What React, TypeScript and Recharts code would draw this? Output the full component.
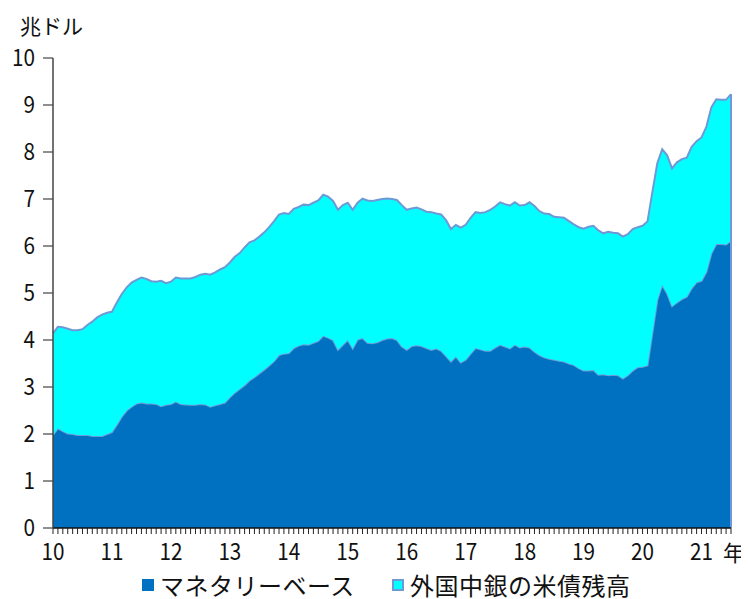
import React from "react";
import {
  AreaChart,
  Area,
  XAxis,
  YAxis,
  ReferenceLine,
  Label,
} from "recharts";

// Monthly values, Jan 2010 – Jul 2021, in trillions of US dollars
const monetaryBase: number[] = [
  1.98, 2.12, 2.06, 2.01, 2.0, 1.98, 1.98, 1.98, 1.96, 1.96, 1.96, 2.0,
  2.04, 2.2, 2.37, 2.5, 2.58, 2.65, 2.67, 2.65, 2.65, 2.64, 2.59, 2.62,
  2.64, 2.69, 2.64, 2.63, 2.62, 2.62, 2.64, 2.63, 2.58, 2.61, 2.64, 2.67,
  2.78, 2.88, 2.96, 3.04, 3.14, 3.21, 3.29, 3.37, 3.46, 3.55, 3.68, 3.71,
  3.72, 3.83, 3.88, 3.91, 3.9, 3.94, 3.98, 4.09, 4.05, 4.0, 3.79, 3.9,
  4.0, 3.82, 4.01, 4.04, 3.94, 3.93, 3.95, 4.0, 4.03, 4.04, 4.0, 3.86,
  3.79, 3.87, 3.89, 3.87, 3.83, 3.79, 3.82, 3.77, 3.66, 3.54, 3.65, 3.52,
  3.58, 3.71, 3.83, 3.8, 3.77, 3.77, 3.84, 3.9, 3.86, 3.82, 3.9, 3.84,
  3.86, 3.84, 3.75, 3.68, 3.63, 3.6, 3.58, 3.56, 3.54, 3.5, 3.47, 3.4,
  3.35, 3.35, 3.36, 3.26, 3.27, 3.25, 3.26, 3.25, 3.18, 3.25, 3.35, 3.42,
  3.43, 3.46, 4.15, 4.85, 5.17, 4.99, 4.72, 4.8, 4.87, 4.92, 5.1, 5.23,
  5.26, 5.45, 5.84, 6.04, 6.04, 6.03, 6.11,
];

const foreignTreasuries: number[] = [
  2.16, 2.16, 2.21, 2.23, 2.21, 2.23, 2.25, 2.34, 2.43, 2.52, 2.58, 2.58,
  2.56, 2.6, 2.61, 2.62, 2.64, 2.63, 2.66, 2.65, 2.6, 2.6, 2.67, 2.59,
  2.6, 2.64, 2.67, 2.68, 2.69, 2.72, 2.75, 2.78, 2.81, 2.83, 2.86, 2.88,
  2.87, 2.89, 2.89, 2.93, 2.94, 2.91, 2.91, 2.92, 2.94, 2.98, 2.99, 2.99,
  2.96, 2.96, 2.95, 2.97, 2.97, 2.98, 2.99, 3.0, 3.0, 2.96, 2.98, 2.97,
  2.92, 2.95, 2.91, 2.97, 3.03, 3.03, 3.03, 3.0, 2.98, 2.96, 2.98, 3.01,
  2.98, 2.93, 2.93, 2.91, 2.9, 2.93, 2.87, 2.9, 2.89, 2.82, 2.8, 2.87,
  2.87, 2.89, 2.89, 2.9, 2.95, 3.0, 3.0, 3.03, 3.03, 3.04, 3.03, 3.02,
  3.01, 3.09, 3.1, 3.06, 3.06, 3.08, 3.04, 3.05, 3.06, 3.03, 2.99, 3.0,
  3.02, 3.06, 3.07, 3.07, 3.0, 3.05, 3.02, 3.02, 3.02, 3.0, 3.01, 2.98,
  3.0, 3.06, 3.0, 2.91, 2.89, 2.94, 2.93, 2.98, 2.98, 2.96, 3.01, 3.0,
  3.05, 3.09, 3.11, 3.08, 3.07, 3.08, 3.12,
];

const yearLabels: string[] = ["10", "11", "12", "13", "14", "15", "16", "17", "18", "19", "20", "21"];
const yTicks: number[] = [0, 1, 2, 3, 4, 5, 6, 7, 8, 9, 10];

const SERIES_BASE = "マネタリーベース";
const SERIES_FOREIGN = "外国中銀の米債残高";

const COLOR_BASE = "#0070c0";
const COLOR_FOREIGN = "#00ffff";
const COLOR_EDGE = "#6d9ad6";
const FONT = "'Noto Sans CJK JP', 'Noto Sans', sans-serif";

const data = monetaryBase.map((b, i) => ({
  i,
  base: b,
  foreign: foreignTreasuries[i],
}));

const lastIndex = data.length - 1;
const lastTotal = monetaryBase[lastIndex] + foreignTreasuries[lastIndex];
const monthTicks = data.map((d) => d.i);

// Narrow digits: squeeze tick numerals horizontally
const Numeral = ({ x, y, anchor, children }: any) => (
  <text
    transform={`translate(${x},${y}) scale(0.9,1)`}
    textAnchor={anchor}
    fontSize={23}
    fontFamily={FONT}
    fill="#111"
  >
    {children}
  </text>
);

const XTick = (props: any) => {
  const { x, y, payload } = props;
  const idx = payload.value as number;
  if (idx % 12 !== 0) return null;
  const label = yearLabels[idx / 12];
  if (!label) return null;
  return (
    <Numeral x={x} y={y + 24} anchor="middle">
      {label}
    </Numeral>
  );
};

const YTick = (props: any) => {
  const { x, y, payload } = props;
  return (
    <Numeral x={x} y={y + 8} anchor="end">
      {payload.value}
    </Numeral>
  );
};

const LegendItem = ({
  color,
  border,
  label,
  left,
  spacing,
}: {
  color: string;
  border: string;
  label: string;
  left: number;
  spacing: number;
}) => (
  <div
    style={{
      position: "absolute",
      left,
      top: 564,
      height: 26,
      lineHeight: "26px",
      display: "flex",
      alignItems: "center",
      fontFamily: FONT,
      fontSize: 24,
      color: "#111",
      whiteSpace: "nowrap",
    }}
  >
    <span
      style={{
        display: "inline-block",
        width: 12,
        height: 12,
        boxSizing: "border-box",
        background: color,
        border: `2px solid ${border}`,
        marginRight: 6,
      }}
    />
    <span style={{ letterSpacing: spacing }}>{label}</span>
  </div>
);

export default function App() {
  return (
    <div style={{ position: "relative", width: 741, height: 591 }}>
      <AreaChart
        width={741}
        height={583}
        data={data}
        margin={{ top: 50, right: 18, left: 0, bottom: 23 }}
      >
        <XAxis
          dataKey="i"
          type="number"
          domain={[0, lastIndex]}
          ticks={monthTicks}
          interval={0}
          tick={<XTick />}
          tickSize={6}
          tickLine={{ stroke: "#222", strokeWidth: 1 }}
          axisLine={{ stroke: "#111", strokeWidth: 1.5 }}
          height={40}
        >
          <Label
            content={(p: any) => {
              const vb = p.viewBox || {};
              return (
                <text
                  x={vb.x + vb.width - 8}
                  y={vb.y + 33}
                  fontSize={22}
                  fontFamily={FONT}
                  fill="#111"
                >
                  年
                </text>
              );
            }}
          />
        </XAxis>
        <YAxis
          type="number"
          domain={[0, 10]}
          ticks={yTicks}
          interval={0}
          width={45}
          tick={<YTick />}
          tickSize={10}
          tickMargin={8}
          tickLine={{ stroke: "#444", strokeWidth: 1.2 }}
          axisLine={{ stroke: "#444", strokeWidth: 1.5 }}
        >
          <Label
            content={(p: any) => {
              const vb = p.viewBox || {};
              return (
                <text
                  x={vb.x + 12}
                  y={vb.y - 24}
                  fontSize={21}
                  fontFamily={FONT}
                  fill="#111"
                >
                  兆ドル
                </text>
              );
            }}
          />
        </YAxis>
        <Area
          type="linear"
          dataKey="base"
          name={SERIES_BASE}
          stackId="s"
          fill={COLOR_BASE}
          fillOpacity={1}
          stroke={COLOR_EDGE}
          strokeWidth={2}
          isAnimationActive={false}
          dot={false}
          activeDot={false}
        />
        <Area
          type="linear"
          dataKey="foreign"
          name={SERIES_FOREIGN}
          stackId="s"
          fill={COLOR_FOREIGN}
          fillOpacity={1}
          stroke={COLOR_EDGE}
          strokeWidth={2}
          isAnimationActive={false}
          dot={false}
          activeDot={false}
        />
        <ReferenceLine
          segment={[
            { x: lastIndex, y: 0 },
            { x: lastIndex, y: lastTotal },
          ]}
          stroke={COLOR_EDGE}
          strokeWidth={2}
        />
      </AreaChart>
      <LegendItem color={COLOR_BASE} border={COLOR_BASE} label={SERIES_BASE} left={134} spacing={0.5} />
      <LegendItem color={COLOR_FOREIGN} border={COLOR_EDGE} label={SERIES_FOREIGN} left={384} spacing={0.5} />
    </div>
  );
}
